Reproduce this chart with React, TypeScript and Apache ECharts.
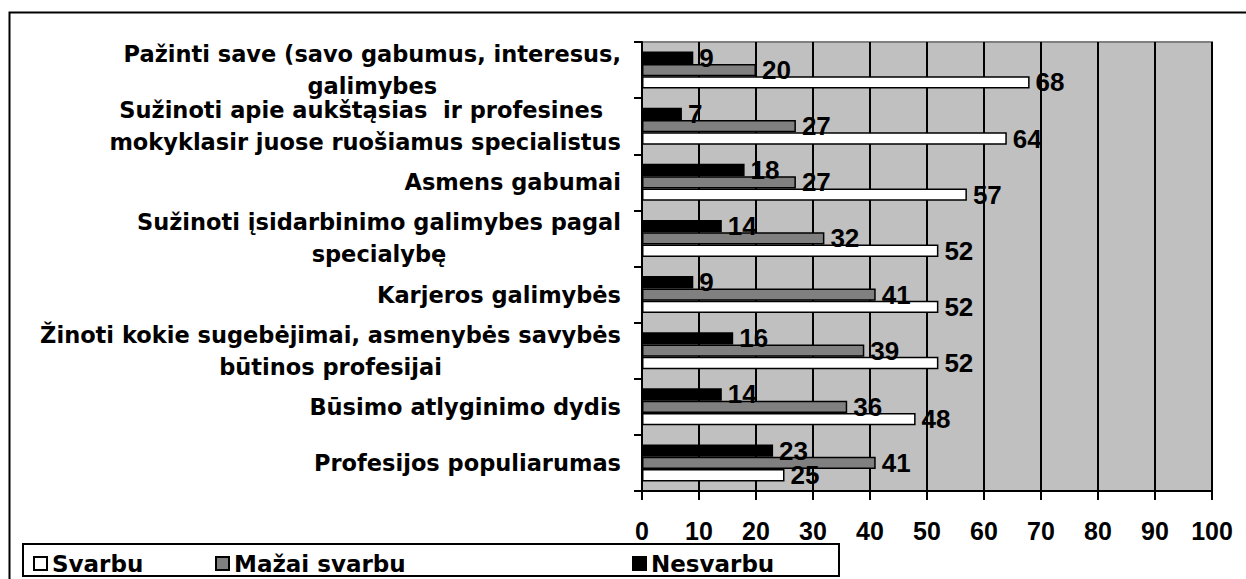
import React, { useEffect, useRef } from "react";
import * as echarts from "echarts";

const categories: string[] = [
  "Pažinti save (savo gabumus, interesus,\ngalimybes",
  "Sužinoti apie aukštąsias  ir profesines \nmokyklasir juose ruošiamus specialistus",
  "Asmens gabumai",
  "Sužinoti įsidarbinimo galimybes pagal\nspecialybę",
  "Karjeros galimybės",
  "Žinoti kokie sugebėjimai, asmenybės savybės\nbūtinos profesijai",
  "Būsimo atlyginimo dydis",
  "Profesijos populiarumas",
];

const nesvarbu: number[] = [9, 7, 18, 14, 9, 16, 14, 23];
const mazaiSvarbu: number[] = [20, 27, 27, 32, 41, 39, 36, 41];
const svarbu: number[] = [68, 64, 57, 52, 52, 52, 48, 25];

const xTicks = { min: 0, max: 100, interval: 10 };

const DIGITS = "'Liberation Sans', Arial, sans-serif";
const WIDE = "'DejaVu Sans', sans-serif";

export default function App() {
  const ref = useRef<HTMLDivElement>(null);
  useEffect(() => {
    if (!ref.current) return;
    const chart = echarts.init(ref.current, null, { renderer: "svg" });
    const labelStyle = {
      show: true,
      position: "right" as const,
      distance: 6,
      color: "#000",
      fontSize: 26,
      lineHeight: 22,
      fontWeight: "bold" as const,
      fontFamily: DIGITS,
    };
    const mkSeries = (name: string, data: number[], color: string) => ({
      name,
      type: "bar" as const,
      data,
      barCategoryGap: "34%",
      barGap: "0%",
      itemStyle: { color, borderColor: "#000", borderWidth: 1.5 },
      label: labelStyle,
    });
    const legendText = { fontSize: 23, fontWeight: "bold" as const, fontFamily: WIDE, color: "#000" };
    const legendBase = {
      top: 547,
      icon: "rect",
      itemWidth: 13,
      itemHeight: 13,
      itemGap: 4,
      textStyle: legendText,
    };
    chart.setOption({
      animation: false,
      backgroundColor: "#fff",
      grid: {
        left: 642,
        right: 34,
        top: 42,
        bottom: 88,
        show: true,
        backgroundColor: "#C0C0C0",
        borderColor: "#808080",
        borderWidth: 2,
      },
      xAxis: {
        type: "value",
        min: xTicks.min,
        max: xTicks.max,
        interval: xTicks.interval,
        axisLine: { show: true, lineStyle: { color: "#000", width: 2 } },
        axisTick: { show: true, length: 9, lineStyle: { color: "#000", width: 2 } },
        splitLine: { show: true, lineStyle: { color: "#000", width: 2 } },
        axisLabel: {
          color: "#000",
          fontSize: 25,
          fontWeight: "bold",
          fontFamily: DIGITS,
          margin: 27,
        },
      },
      yAxis: {
        type: "category",
        inverse: true,
        data: categories,
        axisLine: { show: true, lineStyle: { color: "#000", width: 2 } },
        axisTick: { show: true, length: 8, lineStyle: { color: "#000", width: 2 } },
        axisLabel: {
          interval: 0,
          margin: 21,
          color: "#000",
          formatter: (v: string) =>
            v
              .split("\n")
              .map((l) => `{c|${l}}`)
              .join("\n"),
          rich: {
            c: {
              align: "center",
              fontSize: 22.5,
              fontWeight: "bold",
              fontFamily: WIDE,
              color: "#000",
              lineHeight: 32,
            },
          },
        },
      },
      legend: [
        { ...legendBase, data: ["Svarbu"], left: 28 },
        { ...legendBase, data: ["Mažai svarbu"], left: 210 },
        { ...legendBase, data: ["Nesvarbu"], left: 627 },
      ],
      graphic: [
        {
          type: "rect",
          left: 7,
          top: 10,
          shape: { width: 1260, height: 600 },
          style: { fill: "none", stroke: "#000", lineWidth: 2 },
          silent: true,
          z: -1,
        },
        {
          type: "rect",
          left: 22,
          top: 543,
          shape: { width: 816, height: 32 },
          style: { fill: "#fff", stroke: "#000", lineWidth: 2 },
          silent: true,
          z: -1,
        },
      ],
      series: [
        mkSeries("Nesvarbu", nesvarbu, "#000"),
        mkSeries("Mažai svarbu", mazaiSvarbu, "#808080"),
        mkSeries("Svarbu", svarbu, "#fff"),
      ],
    });
    return () => chart.dispose();
  }, []);
  return (
    <div
      ref={ref}
      style={{ position: "absolute", left: 0, top: 0, width: 1246, height: 579 }}
    />
  );
}
